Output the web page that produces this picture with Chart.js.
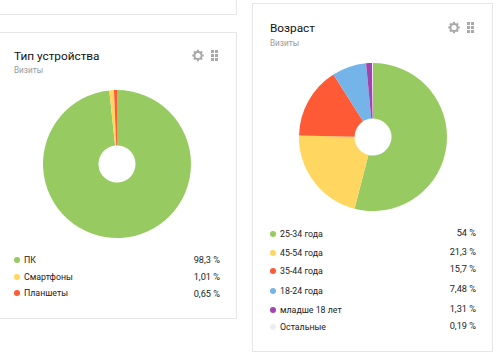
<!DOCTYPE html>
<html><head><meta charset="utf-8">
<script src="https://cdn.jsdelivr.net/npm/chart.js@4"></script>
<style>
html,body{margin:0;padding:0;background:#fff;width:499px;height:358px;overflow:hidden;font-family:"Liberation Sans",Arial,sans-serif;}
.card{position:absolute;box-sizing:border-box;border:1px solid #e6e6e6;background:#fff;}
.abs{position:absolute;white-space:nowrap;}
.title{font:11.8px Roboto,sans-serif;color:#111;line-height:16px;}
.sub{font:8.2px Roboto,sans-serif;color:#999;line-height:12px;}
.lab{font:8.8px Roboto,sans-serif;color:#222;line-height:12px;}
.val{font:9.2px Roboto,sans-serif;color:#222;line-height:12px;text-align:right;}
.dot{position:absolute;width:6px;height:6px;border-radius:50%;}
canvas{position:absolute;display:block;}
</style></head><body>
<div class="card" style="left:-2px;top:-20px;width:239px;height:35px"></div>
<div class="card" style="left:-2px;top:32px;width:239px;height:287px"></div>
<div class="card" style="left:252px;top:3px;width:241px;height:349px"></div>
<canvas id="c1" width="150" height="150" style="left:42px;top:89px"></canvas>
<canvas id="c2" width="150" height="150" style="left:298px;top:62px"></canvas>
<div id="ui"></div>
<script>
const deviceLabels=["ПК","Смартфоны","Планшеты"];
const deviceValues=[98.3,1.01,0.65];
const deviceText=["98,3 %","1,01 %","0,65 %"];
const ageLabels=["25-34 года","45-54 года","35-44 года","18-24 года","младше 18 лет","Остальные"];
const ageValues=[54,21.3,15.7,7.48,1.31,0.19];
const ageText=["54 %","21,3 %","15,7 %","7,48 %","1,31 %","0,19 %"];
const palette=["#97cb62","#ffd65f","#ff5a36","#74b4e8","#a244b0","#eeeeee"];

const ui=document.getElementById('ui');
function add(cls,text,css){const d=document.createElement('div');d.className='abs '+cls;if(text)d.textContent=text;d.style.cssText+=css;ui.appendChild(d);return d;}
function icons(x,y){
  const ns='http://www.w3.org/2000/svg';
  const s=document.createElementNS(ns,'svg');
  s.setAttribute('width','30');s.setAttribute('height','14');
  s.style.cssText=`position:absolute;left:${x}px;top:${y}px`;
  let h='<g stroke="#a8a8a8" fill="none"><circle cx="6" cy="6.5" r="3.6" stroke-width="2"/>';
  for(let a=0;a<8;a++){h+=`<line x1="6" y1="0.8" x2="6" y2="2.6" stroke-width="2" transform="rotate(${a*45} 6 6.5)"/>`;}
  h+='</g><g fill="#a8a8a8">';
  for(let r=0;r<3;r++)for(let c=0;c<2;c++){h+=`<rect x="${19+c*4}" y="${1+r*4}" width="3" height="3"/>`;}
  s.innerHTML=h+'</g>';
  ui.appendChild(s);
}
function panel(o){
  add('title',o.title,`left:${o.tx}px;top:${o.ty}px`);
  add('sub','Визиты',`left:${o.tx}px;top:${o.ty+16.5}px`);
  icons(o.ix,o.iy);
  o.labels.forEach((l,i)=>{
    const y=o.rows[i];
    add('dot','',`left:${o.tx}px;top:${y-3}px;background:${palette[i]}`);
    add('lab',l,`left:${o.tx+10}px;top:${y-6}px`);
    add('val',o.text[i],`right:${499-o.vr}px;top:${y-6+o.vdy[i]}px`);
  });
}
panel({title:"Тип устройства",tx:14,ty:47.5,ix:192,iy:49,labels:deviceLabels,text:deviceText,rows:[260,277,293],vr:220,vdy:[0,0,1]});
panel({title:"Возраст",tx:270,ty:20,ix:448,iy:21,labels:ageLabels,text:ageText,rows:[234,253,271,291,310,327],vr:476,vdy:[-1,-1,-2,-2,-1,-1]});

function pie(id,labels,values){
  new Chart(document.getElementById(id),{
    type:'doughnut',
    data:{labels,datasets:[{data:values,backgroundColor:palette.slice(0,values.length),borderWidth:0}]},
    options:{responsive:false,animation:false,cutout:'25%',layout:{padding:1},
      plugins:{legend:{display:false},tooltip:{enabled:false}}}
  });
}
pie('c1',deviceLabels,deviceValues);
pie('c2',ageLabels,ageValues);
</script>
</body></html>
